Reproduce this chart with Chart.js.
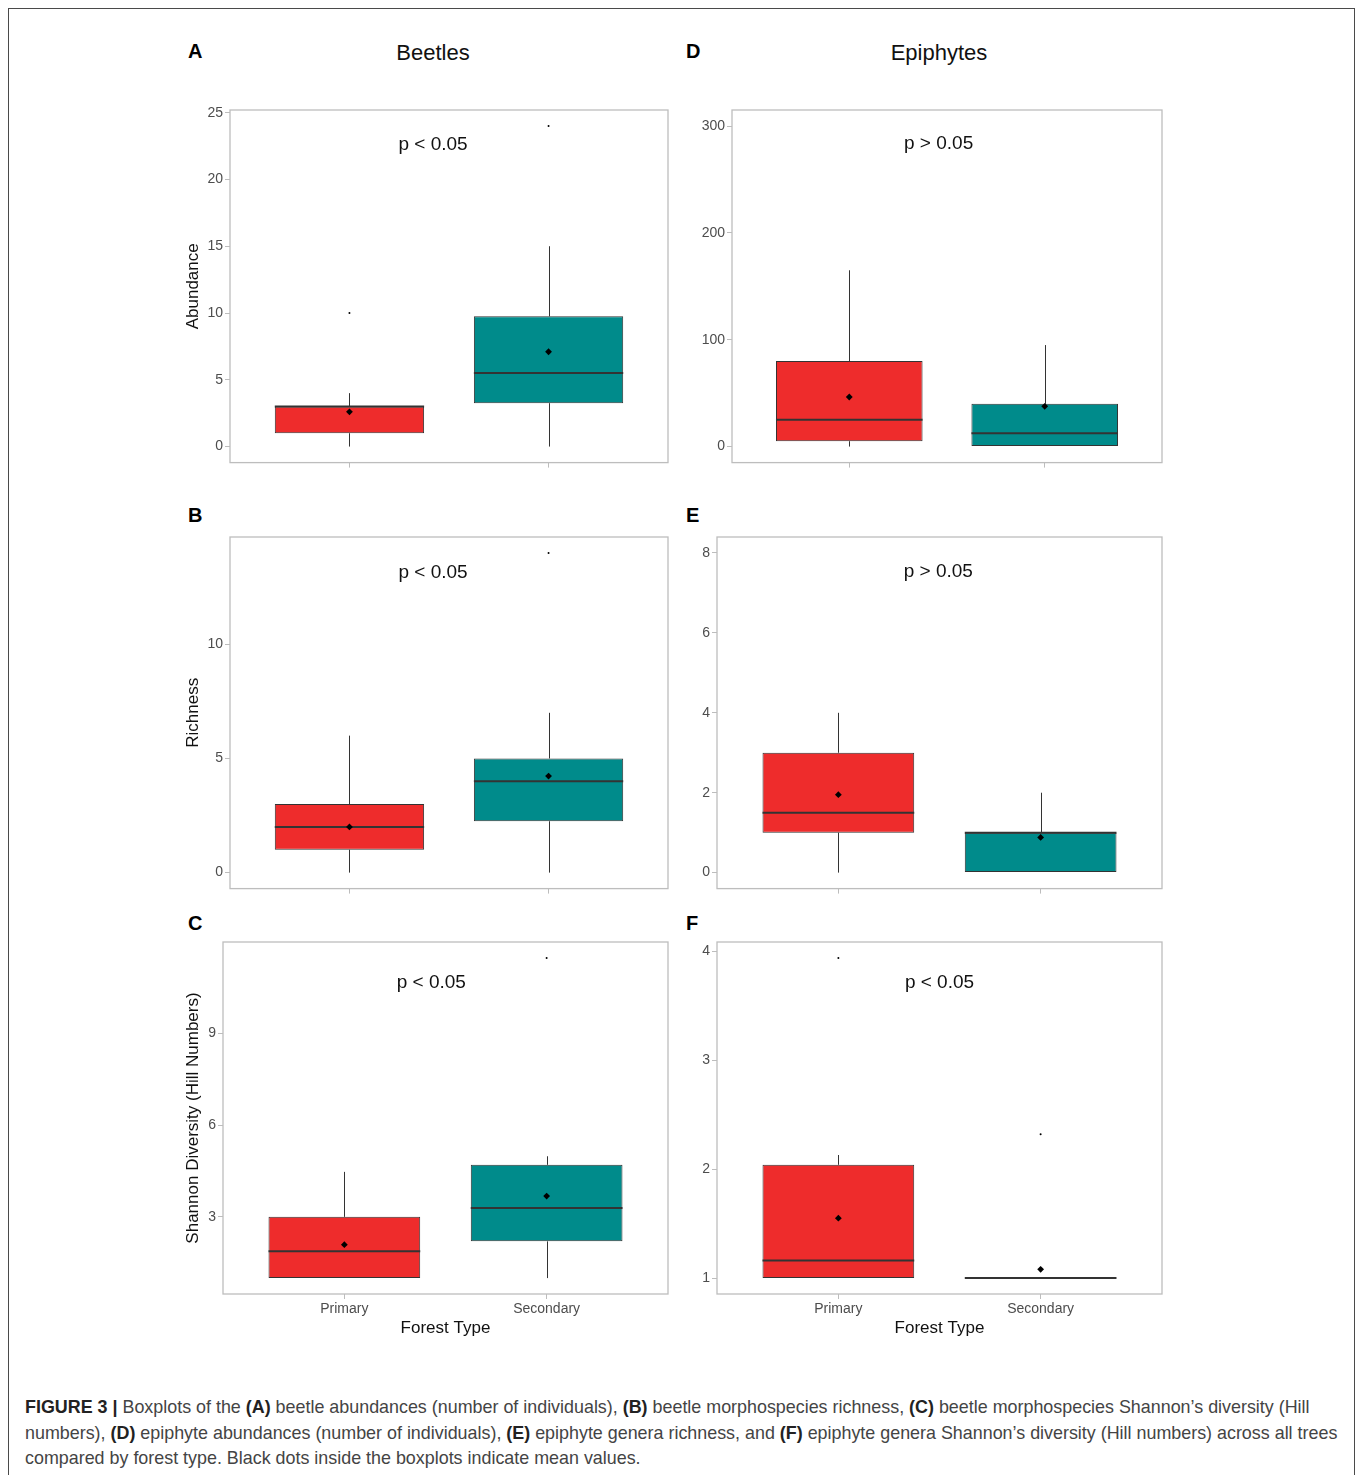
<!DOCTYPE html>
<html>
<head>
<meta charset="utf-8">
<title>Figure 3 - boxplots by forest type</title>
<script src="https://cdn.jsdelivr.net/npm/chart.js@4.4.1/dist/chart.umd.min.js"></script>
<style>
    body { margin: 0; background: #fff; font-family: "Liberation Sans", Arial, sans-serif; }
    #page { position: relative; width: 1358px; height: 1475px; overflow: hidden; }
    #frame { position: absolute; left: 8px; top: 8px; width: 1345px; height: 1520px; border: 1.5px solid #4a4a4a; border-bottom: none; }
    canvas { position: absolute; }
    .letter { position: absolute; font-weight: bold; font-size: 20px; line-height: 20px; color: #000; }
    .col-title { position: absolute; font-size: 22px; line-height: 22px; color: #111; transform: translateX(-50%); white-space: nowrap; }
    #caption { position: absolute; left: 25px; top: 1395px; font-size: 17.9px; line-height: 25.5px; color: #444; white-space: nowrap; }
    #caption b { color: #222; }
</style>
</head>
<body>
<div id="page">
    <div id="frame"></div>

    <div class="letter" style="left:188px; top:41px;">A</div>
    <div class="letter" style="left:686px; top:41px;">D</div>
    <div class="letter" style="left:188px; top:505px;">B</div>
    <div class="letter" style="left:686px; top:505px;">E</div>
    <div class="letter" style="left:188px; top:913px;">C</div>
    <div class="letter" style="left:686px; top:913px;">F</div>

    <div class="col-title" style="left:433px; top:42px;">Beetles</div>
    <div class="col-title" style="left:939px; top:42px;">Epiphytes</div>

    <canvas id="chartA"></canvas>
    <canvas id="chartB"></canvas>
    <canvas id="chartC"></canvas>
    <canvas id="chartD"></canvas>
    <canvas id="chartE"></canvas>
    <canvas id="chartF"></canvas>

    <div id="caption">
        <b>FIGURE 3 |</b> Boxplots of the <b>(A)</b> beetle abundances (number of individuals), <b>(B)</b> beetle morphospecies richness, <b>(C)</b> beetle morphospecies Shannon’s diversity (Hill<br>
        numbers), <b>(D)</b> epiphyte abundances (number of individuals), <b>(E)</b> epiphyte genera richness, and <b>(F)</b> epiphyte genera Shannon’s diversity (Hill numbers) across all trees<br>
        compared by forest type. Black dots inside the boxplots indicate mean values.
    </div>
</div>

<script>
// categories
const forestTypes = ['Primary', 'Secondary'];
const boxColors = ['#EE2C2C', '#008B8B'];

// boxes: [lower whisker, q1, median, q3, upper whisker] for Primary, Secondary
const beetleAbundanceBoxes = [[0, 1, 3, 3, 4], [0, 3.25, 5.5, 9.75, 15]];
const beetleAbundanceMeans = [2.6, 7.1];
const beetleAbundanceOutliers = [[10], [24]];
const beetleAbundanceTicks = [0, 5, 10, 15, 20, 25];
const beetleAbundanceLimits = [-1.2, 25.2];

const beetleRichnessBoxes = [[0, 1, 2, 3, 6], [0, 2.25, 4, 5, 7]];
const beetleRichnessMeans = [2.0, 4.23];
const beetleRichnessOutliers = [[], [14]];
const beetleRichnessTicks = [0, 5, 10];
const beetleRichnessLimits = [-0.7, 14.7];

const beetleShannonBoxes = [[1, 1, 1.88, 3, 4.47], [1, 2.2, 3.29, 4.7, 4.98]];
const beetleShannonMeans = [2.09, 3.68];
const beetleShannonOutliers = [[], [11.46]];
const beetleShannonTicks = [3, 6, 9];
const beetleShannonLimits = [0.48, 11.98];

const epiphyteAbundanceBoxes = [[0, 5, 25, 80, 165], [0, 0, 12.5, 40, 95]];
const epiphyteAbundanceMeans = [46.4, 37.7];
const epiphyteAbundanceOutliers = [[], []];
const epiphyteAbundanceTicks = [0, 100, 200, 300];
const epiphyteAbundanceLimits = [-15, 315];

const epiphyteRichnessBoxes = [[0, 1, 1.5, 3, 4], [0, 0, 1, 1, 2]];
const epiphyteRichnessMeans = [1.95, 0.88];
const epiphyteRichnessOutliers = [[], []];
const epiphyteRichnessTicks = [0, 2, 4, 6, 8];
const epiphyteRichnessLimits = [-0.4, 8.4];

const epiphyteShannonBoxes = [[1, 1, 1.16, 2.04, 2.13], [1, 1, 1, 1, 1]];
const epiphyteShannonMeans = [1.55, 1.08];
const epiphyteShannonOutliers = [[3.94], [2.32]];
const epiphyteShannonTicks = [1, 2, 3, 4];
const epiphyteShannonLimits = [0.853, 4.087];

// significance labels and where they sit (data units)
const pLabels = ['p < 0.05', 'p < 0.05', 'p < 0.05', 'p > 0.05', 'p > 0.05', 'p < 0.05'];
const pLabelPositions = [[1.42, 22.6], [1.42, 13.15], [1.43, 10.64], [1.457, 283], [1.494, 7.52], [1.5, 3.71]];

Chart.defaults.font.family = '"Liberation Sans", Arial, sans-serif';

// panel layout on the page (plot rectangle in px)
const panels = [
    { id: 'chartA', col: 170, plot: [230, 110, 668, 463], boxes: beetleAbundanceBoxes, means: beetleAbundanceMeans, outliers: beetleAbundanceOutliers, ticks: beetleAbundanceTicks, limits: beetleAbundanceLimits, yTitle: 'Abundance', xLabels: false },
    { id: 'chartB', col: 170, plot: [230, 537, 668, 889], boxes: beetleRichnessBoxes, means: beetleRichnessMeans, outliers: beetleRichnessOutliers, ticks: beetleRichnessTicks, limits: beetleRichnessLimits, yTitle: 'Richness', xLabels: false },
    { id: 'chartC', col: 170, plot: [223, 942, 668, 1294], boxes: beetleShannonBoxes, means: beetleShannonMeans, outliers: beetleShannonOutliers, ticks: beetleShannonTicks, limits: beetleShannonLimits, yTitle: 'Shannon Diversity (Hill Numbers)', xLabels: true },
    { id: 'chartD', col: 680, plot: [732, 110, 1162, 463], boxes: epiphyteAbundanceBoxes, means: epiphyteAbundanceMeans, outliers: epiphyteAbundanceOutliers, ticks: epiphyteAbundanceTicks, limits: epiphyteAbundanceLimits, yTitle: '', xLabels: false },
    { id: 'chartE', col: 680, plot: [717, 537, 1162, 889], boxes: epiphyteRichnessBoxes, means: epiphyteRichnessMeans, outliers: epiphyteRichnessOutliers, ticks: epiphyteRichnessTicks, limits: epiphyteRichnessLimits, yTitle: '', xLabels: false },
    { id: 'chartF', col: 680, plot: [717, 942, 1162, 1294], boxes: epiphyteShannonBoxes, means: epiphyteShannonMeans, outliers: epiphyteShannonOutliers, ticks: epiphyteShannonTicks, limits: epiphyteShannonLimits, yTitle: '', xLabels: true }
];

const PAD_TOP = 20;
const PAD_RIGHT = 8;

// whiskers, medians, panel border and the p label
function makeBoxPlugin(panel, idx) {
    return {
        id: 'boxplot' + idx,
        beforeDatasetsDraw(chart) {
            const { ctx, scales: { x, y } } = chart;
            ctx.save();
            ctx.strokeStyle = '#333';
            ctx.lineWidth = 1;
            panel.boxes.forEach((b, i) => {
                const px = Math.round(x.getPixelForValue(i + 1)) + 0.5;
                ctx.beginPath();
                ctx.moveTo(px, y.getPixelForValue(b[0]));
                ctx.lineTo(px, y.getPixelForValue(b[1]));
                ctx.moveTo(px, y.getPixelForValue(b[3]));
                ctx.lineTo(px, y.getPixelForValue(b[4]));
                ctx.stroke();
            });
            ctx.restore();
        },
        afterDatasetDraw(chart, args) {
            if (args.index !== 0) return;
            const { ctx, scales: { y } } = chart;
            ctx.save();
            ctx.strokeStyle = '#333';
            ctx.lineWidth = 2;
            args.meta.data.forEach((bar, i) => {
                const { x: cx, width } = bar.getProps(['x', 'width'], true);
                const py = y.getPixelForValue(panel.boxes[i][2]);
                ctx.beginPath();
                ctx.moveTo(cx - width / 2, py);
                ctx.lineTo(cx + width / 2, py);
                ctx.stroke();
            });
            ctx.restore();
        },
        afterDraw(chart) {
            const { ctx, chartArea: a, scales: { x, y } } = chart;
            ctx.save();
            ctx.strokeStyle = '#BDBDBD';
            ctx.lineWidth = 1.3;
            ctx.strokeRect(a.left, a.top, a.right - a.left, a.bottom - a.top);
            ctx.fillStyle = '#111';
            ctx.font = '19px "Liberation Sans", Arial, sans-serif';
            ctx.textAlign = 'center';
            ctx.textBaseline = 'middle';
            const pos = pLabelPositions[idx];
            ctx.fillText(pLabels[idx], x.getPixelForValue(pos[0]), y.getPixelForValue(pos[1]));
            ctx.restore();
        }
    };
}

panels.forEach((panel, idx) => {
    const [pl, pt, pr, pb] = panel.plot;
    const xAxisH = panel.xLabels ? 55 : 10;
    const canvas = document.getElementById(panel.id);
    canvas.width = pr + PAD_RIGHT - panel.col;
    canvas.height = PAD_TOP + (pb - pt) + xAxisH;
    canvas.style.left = panel.col + 'px';
    canvas.style.top = (pt - PAD_TOP) + 'px';

    const boxData = panel.boxes.map((b, i) => ({ x: i + 1, y: [b[1], b[3]] }));
    const meanData = panel.means.map((m, i) => ({ x: i + 1, y: m }));
    const outlierData = [];
    panel.outliers.forEach((list, i) => list.forEach(v => outlierData.push({ x: i + 1, y: v })));

    new Chart(canvas, {
        type: 'bar',
        data: {
            datasets: [
                {
                    data: boxData,
                    backgroundColor: boxColors,
                    borderColor: '#333',
                    borderWidth: 1,
                    borderSkipped: false,
                    barPercentage: 0.75,
                    categoryPercentage: 1,
                    order: 2
                },
                {
                    type: 'scatter',
                    data: meanData,
                    pointStyle: 'rectRot',
                    pointRadius: 3.4,
                    backgroundColor: '#000',
                    borderWidth: 0,
                    order: 1
                },
                {
                    type: 'scatter',
                    data: outlierData,
                    pointStyle: 'circle',
                    pointRadius: 1,
                    backgroundColor: '#000',
                    borderWidth: 0,
                    order: 1
                }
            ]
        },
        options: {
            responsive: false,
            animation: false,
            devicePixelRatio: 1,
            layout: { padding: { top: PAD_TOP, right: PAD_RIGHT, left: 0, bottom: 0 } },
            plugins: { legend: { display: false }, tooltip: { enabled: false } },
            scales: {
                x: {
                    type: 'linear',
                    min: 0.4,
                    max: 2.6,
                    offset: false,
                    afterBuildTicks: s => { s.ticks = forestTypes.map((_, i) => ({ value: i + 1 })); },
                    afterFit: s => { s.height = xAxisH; },
                    grid: { display: true, offset: false, drawOnChartArea: false, drawTicks: true, tickLength: 5, color: '#BDBDBD', lineWidth: 1 },
                    border: { display: false },
                    ticks: {
                        display: panel.xLabels,
                        padding: 2,
                        color: '#4D4D4D',
                        font: { size: 14 },
                        callback: v => forestTypes[v - 1]
                    },
                    title: {
                        display: panel.xLabels,
                        text: 'Forest Type',
                        color: '#111',
                        font: { size: 17 },
                        padding: { top: 0, bottom: 10 }
                    }
                },
                y: {
                    type: 'linear',
                    min: panel.limits[0],
                    max: panel.limits[1],
                    afterBuildTicks: s => { s.ticks = panel.ticks.map(v => ({ value: v })); },
                    afterFit: s => { s.width = pl - panel.col; },
                    grid: { display: true, drawOnChartArea: false, drawTicks: true, tickLength: 5, color: '#BDBDBD', lineWidth: 1 },
                    border: { display: false },
                    ticks: {
                        padding: 2,
                        color: '#4D4D4D',
                        font: { size: 14 },
                        callback: v => String(v)
                    },
                    title: {
                        display: panel.yTitle !== '',
                        text: panel.yTitle,
                        color: '#111',
                        font: { size: 17 },
                        padding: { top: 13, bottom: 0 }
                    }
                }
            }
        },
        plugins: [makeBoxPlugin(panel, idx)]
    });
});
</script>
</body>
</html>
